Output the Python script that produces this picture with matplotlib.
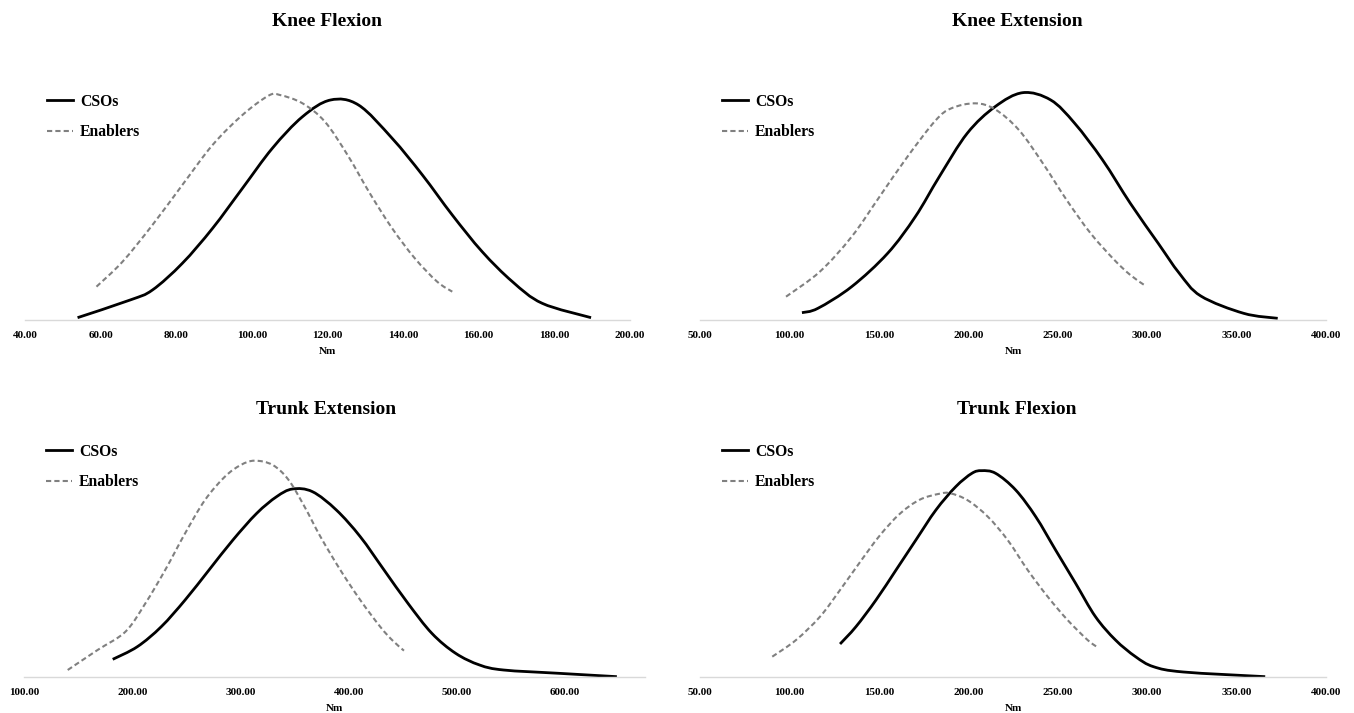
import matplotlib
matplotlib.use("Agg")
import matplotlib.pyplot as plt
from matplotlib.path import Path
from matplotlib.patches import PathPatch
from matplotlib.lines import Line2D

# -------------------------------------------------
# Data (y = relative density height)
# -------------------------------------------------
# Knee Flexion
kf_cso_x = [53.9, 67.8, 73.7, 81.6, 89.6, 97.5, 105.4, 113.4, 120.8, 128.2,
            137.1, 145.1, 153.0, 160.9, 168.9, 176.8, 189.7]
kf_cso_y = [7, 60, 90, 170, 275, 395, 515, 610, 660, 645,
            545, 435, 315, 205, 115, 50, 7]
kf_ena_x = [58.9, 65.8, 73.7, 81.6, 89.6, 97.5, 104.4, 107.4, 113.4, 119.3,
            125.3, 131.2, 137.1, 143.1, 149.0, 153.0]
kf_ena_y = [100, 175, 285, 405, 525, 615, 673, 675, 650, 595,
            495, 380, 275, 185, 115, 85]

# Knee Extension
ke_cso_x = [107.0, 115.9, 134.8, 154.9, 170.4, 183.8, 199.4, 215.0, 230.5, 246.1,
            259.5, 275.1, 290.6, 306.2, 318.0, 330.0, 354.0, 373.0]
ke_cso_y = [22, 35, 100, 200, 310, 430, 560, 640, 682, 660,
            590, 480, 350, 230, 140, 72, 20, 5]
ke_ena_x = [98.1, 117.0, 134.8, 150.4, 166.0, 181.6, 190.5, 203.8, 215.0, 228.3,
            241.7, 255.0, 268.4, 281.7, 290.6, 298.4]
ke_ena_y = [70, 145, 250, 370, 490, 598, 635, 650, 632, 570,
            470, 360, 260, 180, 135, 105]

# Trunk Extension
te_cso_x = [182.0, 204.8, 226.9, 248.9, 271.0, 293.1, 315.1, 333.5, 348.2, 366.6,
            388.7, 410.8, 432.8, 454.9, 477.0, 499.0, 521.1, 543.2, 594.7, 648.0]
te_cso_y = [53, 91, 151, 231, 321, 411, 491, 541, 564, 556,
            501, 421, 321, 221, 131, 71, 36, 21, 11, 1]
te_ena_x = [140.4, 168.0, 193.8, 212.2, 230.5, 248.9, 267.3, 285.7, 300.4, 313.3,
            329.9, 344.6, 359.3, 374.0, 392.4, 410.8, 429.2, 440.2, 451.2]
te_ena_y = [21, 81, 136, 221, 321, 431, 531, 601, 636, 649,
            636, 591, 511, 421, 321, 231, 151, 111, 79]

# Trunk Flexion
tf_cso_x = [128.3, 137.2, 148.4, 159.6, 170.7, 181.9, 193.0, 202.0, 207.5, 215.3,
            226.5, 237.7, 248.8, 260.0, 271.1, 282.3, 293.5, 303.5, 320.3, 366.0]
tf_cso_y = [99, 151, 231, 321, 411, 501, 571, 611, 619, 611,
            561, 481, 381, 281, 181, 111, 61, 31, 15, 1]
tf_ena_x = [90.4, 103.7, 117.1, 128.3, 139.5, 150.6, 161.8, 172.9, 184.1, 190.0,
            199.7, 210.9, 222.0, 233.2, 244.4, 255.5, 266.7, 272.3]
tf_ena_y = [61, 111, 181, 261, 345, 425, 490, 532, 550, 551,
            530, 481, 411, 321, 241, 171, 111, 89]

titles = ["Knee Flexion", "Knee Extension", "Trunk Extension", "Trunk Flexion"]
ticks = [
    [40, 60, 80, 100, 120, 140, 160, 180, 200],
    [50, 100, 150, 200, 250, 300, 350, 400],
    [100, 200, 300, 400, 500, 600],
    [50, 100, 150, 200, 250, 300, 350, 400],
]
xlims = [(40, 200), (50, 400), (100, 674), (50, 400)]

series = [
    (kf_cso_x, kf_cso_y, kf_ena_x, kf_ena_y),
    (ke_cso_x, ke_cso_y, ke_ena_x, ke_ena_y),
    (te_cso_x, te_cso_y, te_ena_x, te_ena_y),
    (tf_cso_x, tf_cso_y, tf_ena_x, tf_ena_y),
]

# panel boxes in pixels: left, right, baseline y (from top)
W, H = 1354, 713
boxes = [(25, 630, 320), (700, 1326, 320), (24, 645, 677), (700, 1326, 677)]
title_pos = [(327, 22), (1017, 22), (326, 410), (1017, 410)]

CSO_STYLE = dict(color='black', lw=2.0, ls='-')
ENA_STYLE = dict(color='#808080', lw=1.5, ls=(0, (2.5, 1.5)))


# -------------------------------------------------
# Smoothed line (Excel style) drawn as bezier path
# -------------------------------------------------
def smooth_path(xs, ys):
    pts = list(zip(xs, ys))
    n = len(pts)
    verts = [pts[0]]
    codes = [Path.MOVETO]
    for i in range(n - 1):
        p0 = pts[max(i - 1, 0)]
        p1 = pts[i]
        p2 = pts[i + 1]
        p3 = pts[min(i + 2, n - 1)]
        c1 = (p1[0] + (p2[0] - p0[0]) / 6, p1[1] + (p2[1] - p0[1]) / 6)
        c2 = (p2[0] - (p3[0] - p1[0]) / 6, p2[1] - (p3[1] - p1[1]) / 6)
        verts += [c1, c2, p2]
        codes += [Path.CURVE4] * 3
    return Path(verts, codes)


def draw_smooth(ax, xs, ys, style):
    patch = PathPatch(smooth_path(xs, ys), fill=False, edgecolor=style['color'],
                      lw=style['lw'], ls=style['ls'], capstyle='butt',
                      joinstyle='round')
    ax.add_patch(patch)


plt.rcParams['font.family'] = ['Liberation Serif', 'DejaVu Serif']

fig = plt.figure(figsize=(W / 100, H / 100), dpi=100)

for i in range(4):
    left, right, base = boxes[i]
    ax = fig.add_axes([left / W, (H - base) / H, (right - left) / W, 240 / H])
    cx, cy, ex, ey = series[i]

    draw_smooth(ax, cx, cy, CSO_STYLE)
    draw_smooth(ax, ex, ey, ENA_STYLE)

    ax.set_xlim(*xlims[i])
    ax.set_ylim(0, 720)
    ax.set_xticks(ticks[i])
    ax.set_xticklabels([f"{t:.2f}" for t in ticks[i]], fontsize=8, fontweight='bold')
    ax.set_yticks([])
    ax.tick_params(axis='x', length=0, pad=8)
    for s in ['top', 'right', 'left']:
        ax.spines[s].set_visible(False)
    ax.spines['bottom'].set_color('#d9d9d9')
    ax.spines['bottom'].set_linewidth(1.0)
    ax.set_xlabel("Nm", fontsize=8, fontweight='bold', labelpad=5)

    handles = [Line2D([], [], **CSO_STYLE), Line2D([], [], **ENA_STYLE)]
    leg_y = 0.942 if base == 320 else 0.971
    ax.legend(handles, ['CSOs', 'Enablers'], loc='upper left',
              bbox_to_anchor=(22 / (right - left), leg_y),
              frameon=False, borderaxespad=0, borderpad=0,
              handlelength=1.65, handletextpad=0.45, labelspacing=0.92,
              prop={'family': 'Liberation Serif', 'weight': 'bold', 'size': 11.3})

    tx, ty = title_pos[i]
    fig.text(tx / W, 1 - ty / H, titles[i], ha='center', va='center',
             fontsize=14, fontweight='bold')

fig.savefig("out.png", dpi=100)
